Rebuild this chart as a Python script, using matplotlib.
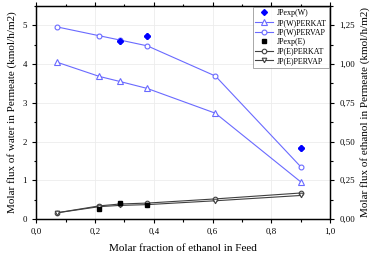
import numpy as np
import matplotlib.pyplot as plt
from matplotlib.ticker import MultipleLocator, FuncFormatter

plt.rcParams['font.family'] = ['Liberation Serif', 'DejaVu Serif']

# water side (left axis)
x_w = [0.07, 0.215, 0.285, 0.378, 0.61, 0.90]
w_perkat = [4.05, 3.68, 3.55, 3.37, 2.73, 0.96]
w_pervap = [4.96, 4.73, 4.62, 4.47, 3.69, 1.35]
x_wexp = [0.285, 0.378, 0.90]
w_exp = [4.60, 4.73, 1.84]

# ethanol side (right axis)
x_e = [0.07, 0.215, 0.285, 0.378, 0.61, 0.90]
e_perkat = [0.040, 0.085, 0.097, 0.103, 0.130, 0.168]
e_pervap = [0.040, 0.080, 0.088, 0.093, 0.118, 0.152]
x_eexp = [0.215, 0.285, 0.378]
e_exp = [0.065, 0.105, 0.088]

blue = '#6a6aff'
gray = '#404040'

fig, ax = plt.subplots(figsize=(3.73, 2.58), dpi=100)
fig.subplots_adjust(left=0.097, right=0.885, top=0.977, bottom=0.151)
ax2 = ax.twinx()

h1, = ax.plot(x_wexp, w_exp, 'D', color='blue', ms=3, lw=0, label='JPexp(W)')
h2, = ax.plot(x_w, w_perkat, '-^', color=blue, mfc='white', mec=blue, ms=4, mew=0.8, lw=0.8, label='JP(W)PERKAT')
h3, = ax.plot(x_w, w_pervap, '-o', color=blue, mfc='white', mec=blue, ms=3.5, mew=0.8, lw=0.8, label='JP(W)PERVAP')
ax.plot(x_wexp, w_exp, 'D', color='blue', ms=3, zorder=5)

h5, = ax2.plot(x_e, e_perkat, '-o', color=gray, mfc='white', mec=gray, ms=3.3, mew=0.8, lw=0.8, label='JP(E)PERKAT')
h6, = ax2.plot(x_e, e_pervap, '-v', color=gray, mfc='white', mec=gray, ms=3.3, mew=0.8, lw=0.8, label='JP(E)PERVAP')
h4, = ax2.plot(x_eexp, e_exp, 's', color='black', ms=2.6, lw=0, label='JPexp(E)')

ax.set_xlim(0, 1.0)
ax.set_ylim(0, 5.5)
ax2.set_ylim(0, 1.375)

comma = FuncFormatter(lambda v, p: ('%.1f' % v).replace('.', ','))
ax.xaxis.set_major_locator(MultipleLocator(0.2))
ax.xaxis.set_minor_locator(MultipleLocator(0.1))
ax.xaxis.set_major_formatter(comma)
ax.yaxis.set_major_locator(MultipleLocator(1))
ax.yaxis.set_minor_locator(MultipleLocator(0.5))
ax2.yaxis.set_major_locator(MultipleLocator(0.25))
ax2.yaxis.set_minor_locator(MultipleLocator(0.125))
ax2.yaxis.set_major_formatter(FuncFormatter(lambda v, p: ('%.2f' % v).replace('.', ',')))

ax.grid(True, color='#ececec', lw=0.6)
ax.set_axisbelow(True)
ax.tick_params(which='both', labelsize=6.3, width=0.8, top=True)
ax.tick_params(axis='x', which='both', top=True, direction='out')
ax.tick_params(which='major', length=3)
ax.tick_params(which='minor', length=1.8)
ax2.tick_params(which='both', labelsize=6.3, width=0.8)
ax2.tick_params(which='major', length=3)
ax2.tick_params(which='minor', length=1.8)
for a in (ax, ax2):
    for s in a.spines.values():
        s.set_linewidth(0.9)

ax.set_xlabel('Molar fraction of ethanol in Feed', fontsize=8, labelpad=6)
ax.set_ylabel('Molar flux of water in Permeate (kmol/h/m2)', fontsize=8, labelpad=4)
ax2.set_ylabel('Molar flux of ethanol in Permeate (kmol/h/m2)', fontsize=8, labelpad=4)

leg = ax2.legend([h1, h2, h3, h4, h5, h6],
                 ['JPexp(W)', 'JP(W)PERKAT', 'JP(W)PERVAP', 'JPexp(E)', 'JP(E)PERKAT', 'JP(E)PERVAP'],
                 loc='upper right', fontsize=5.8, frameon=True, fancybox=False,
                 edgecolor='#808080', borderaxespad=0.1, handlelength=2.2,
                 labelspacing=0.2, borderpad=0.3, handletextpad=0.5)
leg.get_frame().set_linewidth(0.6)

fig.savefig('out.png', dpi=100)
